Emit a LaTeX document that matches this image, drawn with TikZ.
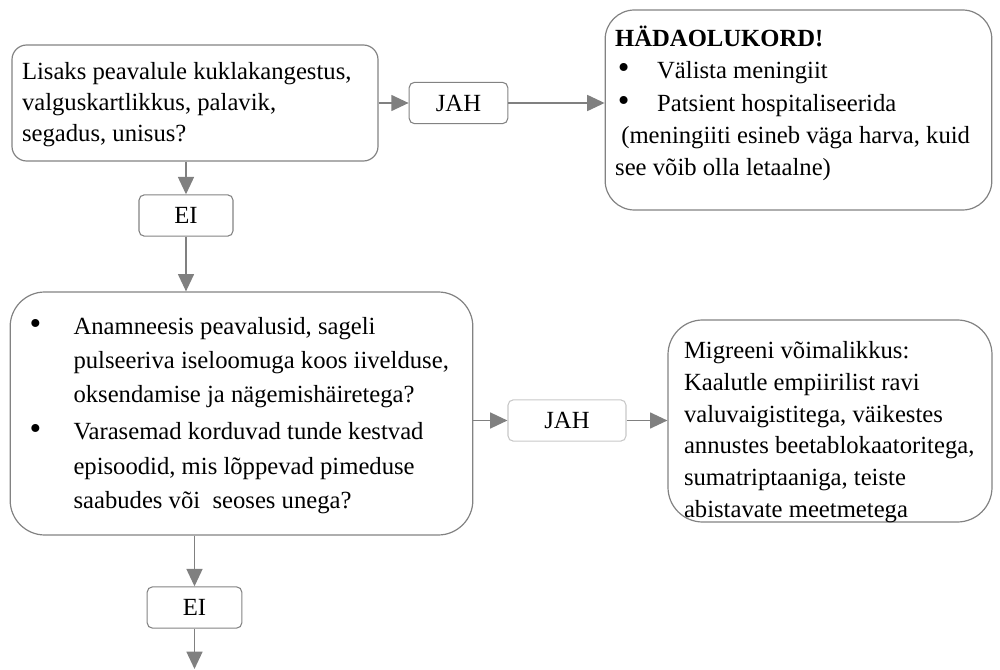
\documentclass[tikz,border=0pt]{standalone}
\usepackage{fontspec}
\setmainfont{Liberation Serif}
\usetikzlibrary{arrows.meta}

\definecolor{linegray}{RGB}{128,128,128}
\definecolor{boxgray}{RGB}{130,130,130}
\definecolor{lightgray}{RGB}{200,200,200}

\tikzset{every picture/.style={line width=0.75pt}}
\tikzset{
  box/.style={draw=boxgray, line width=0.9pt, inner xsep=7.5pt, inner ysep=0pt},
  answer/.style={draw=boxgray, line width=0.8pt, rounded corners=4pt, minimum width=72pt,
    minimum height=31pt, inner sep=0pt, font=\fontsize{18.5}{24}\selectfont},
  flow/.style={draw=linegray, line width=1.1pt, -{Triangle[length=13pt,width=12pt]}, color=linegray}
}

% #1 height, #2 width, #3 first baseline, #4 baselineskip, #5 text
\newcommand{\boxtext}[5]{\parbox[c][#1][t]{#2}{\fontsize{18.5}{#4}\selectfont\raggedright\rule{0pt}{#3}#5}}
\newcommand{\bul}[1]{\makebox[#1][l]{\scalebox{1.35}{\textbullet}}}

\begin{document}
\begin{tikzpicture}[x=0.75pt,y=0.75pt,yscale=-1,xscale=1]

\useasboundingbox (0,0) rectangle (1000,670);

% question boxes
\node (ques) [box, rounded corners=11pt] at (195,103)
  {\boxtext{87pt}{259.5pt}{26.25pt}{23pt}{Lisaks peavalule kuklakangestus,\\valguskartlikkus, palavik,\\segadus, unisus?}};
\node (hist) [box, rounded corners=26pt] at (241.5,413.5)
  {\boxtext{182.25pt}{332pt}{31.5pt}{25.5pt}{%
   \hangindent=40pt\hangafter=1\hspace*{7pt}\bul{33pt}Anamneesis peavalusid, sageli\newline
   pulseeriva iseloomuga koos iivelduse,\newline oksendamise ja nägemishäiretega?\par
   \vspace{3pt}
   \hangindent=40pt\hangafter=1\hspace*{7pt}\bul{33pt}Varasemad korduvad tunde kestvad\newline
   episoodid, mis lõppevad pimeduse\newline saabudes või\ \ seoses unega?}};

% outcome boxes
\node (emerg) [box, rounded corners=22pt] at (798.5,110)
  {\boxtext{150pt}{275pt}{27.5pt}{24.2pt}{\textbf{HÄDAOLUKORD!}\\
   \hspace*{2pt}\bul{29.5pt}Välista meningiit\\
   \hspace*{2pt}\bul{29.5pt}Patsient hospitaliseerida\\
   \ (meningiiti esineb väga harva, kuid\\see võib olla letaalne)}};
\node (migr) [box, inner xsep=12pt, rounded corners=26pt] at (830,421)
  {\boxtext{151.5pt}{219pt}{29pt}{23.8pt}{Migreeni võimalikkus:\\Kaalutle empiirilist ravi\\valuvaigistitega, väikestes\\annustes beetablokaatoritega,\\sumatriptaaniga, teiste\\abistavate meetmetega}};

% answers
\node (yes1) [answer, minimum width=74pt] at (458.5,103) {JAH};
\node (no1) [answer, minimum width=70.5pt] at (186,215.5) {EI};
\node (yes2) [answer, draw=lightgray, minimum width=88.5pt] at (567,420.5) {JAH};
\node (no2) [answer, minimum width=71pt] at (194.5,607.5) {EI};
\coordinate (next) at (194.5,669);

% connectors
\draw [flow] (ques.east |- yes1.west) -- (yes1.west);
\draw [flow] (yes1.east) -- (yes1.east -| emerg.west);
\draw [flow] (no1.north |- ques.south) -- (no1.north);
\draw [flow] (no1.south) -- (no1.south |- hist.north);
\draw [flow] (hist.east |- yes2.west) -- (yes2.west);
\draw [flow] (yes2.east) -- (yes2.east -| migr.west);
\draw [flow] (no2.north |- hist.south) -- (no2.north);
\draw [flow] (no2.south) -- (next);

\end{tikzpicture}
\end{document}
